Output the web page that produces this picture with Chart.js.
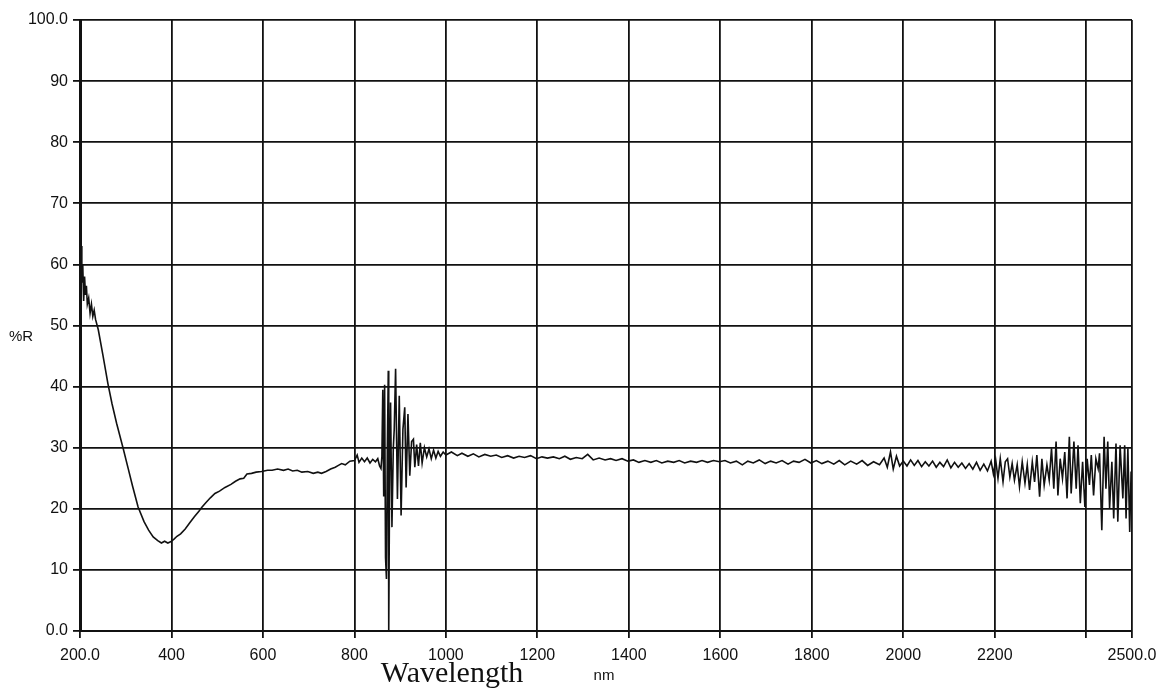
<!DOCTYPE html>
<html>
<head>
<meta charset="utf-8">
<script src="https://cdn.jsdelivr.net/npm/chart.js@4"></script>
<style>
  html, body { margin: 0; padding: 0; background: #fff; }
  #wrap { width: 1165px; height: 692px; }
</style>
</head>
<body>
<div id="wrap"><canvas id="spectrum" width="1165" height="692"></canvas></div>
<script>
// 軸の目盛り
const xTicks = [200, 400, 600, 800, 1000, 1200, 1400, 1600, 1800, 2000, 2200, 2400, 2500];
const xTickLabels = ["200.0", "400", "600", "800", "1000", "1200", "1400", "1600", "1800", "2000", "2200", "", "2500.0"];
const yTicks = [0, 10, 20, 30, 40, 50, 60, 70, 80, 90, 100];
const yTickLabels = ["0.0", "10", "20", "30", "40", "50", "60", "70", "80", "90", "100.0"];

// 波長 (nm) と反射率 (%R) — 画像から読み取った値
const wavelength = [
  200, 201, 202, 203, 204, 206, 208, 210, 212, 214, 216, 219, 222, 225, 228, 231, 234,
  240, 250, 261, 270, 280, 294, 305, 315, 327, 340, 350, 360, 370, 378, 385, 392, 398,
  405, 412, 420, 430, 440, 450, 460, 466, 475, 485, 495, 505, 517, 530, 540, 550, 558,
  565, 575, 585, 597, 610, 620, 632, 645, 655, 665, 675, 685, 698, 710, 720, 728, 738,
  748, 758, 765, 772, 780, 790, 800, 806, 810, 816, 822, 828, 834, 840, 846, 851, 855, 858,
  860, 862, 864, 866, 868, 870, 872, 874, 875, 877, 879, 882, 885, 887, 890, 894, 898,
  902, 906, 910, 913, 917, 921, 925, 929, 932, 936, 940, 944, 948, 953, 958, 963, 968,
  973, 978, 983, 988, 994,
  1000, 1012, 1025, 1035, 1048, 1060, 1072, 1085, 1098, 1110, 1122, 1135, 1148, 1160,
  1172, 1185, 1198, 1210, 1222, 1235, 1248, 1260, 1272, 1285, 1298, 1310, 1322, 1335,
  1348, 1360, 1372, 1385, 1398, 1410, 1422, 1435, 1448, 1460, 1472, 1485, 1498, 1510,
  1522, 1535, 1548, 1560, 1572, 1585, 1598, 1610, 1622, 1635, 1648, 1660, 1672, 1685,
  1698, 1710, 1722, 1735, 1748, 1760, 1772, 1785, 1798, 1810, 1822, 1835, 1848, 1860,
  1872, 1885, 1898, 1910, 1922, 1935, 1948, 1958, 1965, 1972, 1978, 1985, 1992,
  2000, 2008, 2016, 2024, 2032, 2040, 2048, 2056, 2064, 2072, 2080, 2088, 2096, 2104,
  2112, 2120, 2128, 2136, 2144, 2152, 2160, 2168, 2176, 2184, 2192, 2197,
  2202, 2207, 2212, 2218, 2223, 2228, 2233, 2238, 2243, 2249, 2254, 2260, 2266, 2271,
  2276, 2282, 2287, 2292, 2298, 2303, 2308, 2314, 2319, 2324, 2329, 2334, 2338, 2343,
  2348, 2353, 2358, 2363, 2367, 2373, 2378, 2382, 2387, 2392, 2397, 2402, 2407, 2411,
  2416, 2421, 2426, 2429, 2434, 2439, 2443, 2447, 2451, 2456, 2460, 2465, 2469, 2474,
  2480, 2484, 2487, 2491, 2495, 2498, 2500
];
const reflectance = [
  100, 61, 55, 63, 57, 60, 54, 58, 55, 56.5, 53.5, 54.5, 52, 53.5, 51.5, 52.5, 51,
  49.3, 45.2, 40.5, 37.2, 34, 30, 26.7, 23.7, 20.3, 17.9, 16.5, 15.4, 14.8, 14.4, 14.7, 14.4, 14.6,
  15.0, 15.5, 15.9, 16.7, 17.7, 18.7, 19.6, 20.2, 21.0, 21.8, 22.5, 22.9, 23.5, 24.0, 24.5, 24.9, 25.0,
  25.7, 25.8, 26.0, 26.1, 26.3, 26.3, 26.5, 26.3, 26.5, 26.2, 26.3, 26.0, 26.1, 25.8, 26.0, 25.8, 26.1,
  26.5, 26.8, 27.1, 27.4, 27.2, 27.8, 27.9, 28.8, 27.6, 28.3, 27.7, 28.3, 27.5, 28.1, 27.7, 28.2, 27.0, 26.6,
  28.5, 39.5, 22, 40.3, 12, 8.5, 30, 42.6, 0, 26, 37.4, 17, 30, 33, 42.9, 21.6, 38.5,
  18.9, 33, 36.6, 23.5, 35.5, 25.4, 31.0, 31.4, 26.8, 30.5, 27.0, 30.8, 27.5, 30.0, 28.5, 29.8, 28.2,
  29.6, 28.3, 29.4, 28.6, 29.3,
  28.8, 29.3, 28.7, 29.1, 28.6, 29.0, 28.5, 28.9, 28.6, 28.8, 28.4, 28.7, 28.3, 28.6,
  28.4, 28.7, 28.2, 28.5, 28.3, 28.5, 28.2, 28.6, 28.1, 28.4, 28.2, 28.9, 28.0, 28.3,
  28.0, 28.2, 27.9, 28.2, 27.8, 28.0, 27.6, 27.9, 27.6, 27.9, 27.5, 27.8, 27.6, 27.9,
  27.5, 27.8, 27.6, 27.9, 27.6, 27.9, 27.7, 27.9, 27.5, 27.8, 27.2, 27.8, 27.5, 28.0,
  27.4, 27.8, 27.5, 27.9, 27.3, 27.8, 27.6, 28.1, 27.5, 27.9, 27.4, 27.8, 27.3, 27.9,
  27.2, 27.8, 27.3, 27.9, 27.1, 27.7, 27.2, 28.3, 26.8, 29.3, 26.5, 28.6, 27.0,
  27.8, 27.0, 28.0, 27.1, 27.9, 26.9, 27.7, 27.0, 27.8, 26.8, 27.6, 26.9, 28.0, 26.7,
  27.6, 26.8, 27.5, 26.6, 27.4, 26.5, 27.6, 26.3, 27.3, 26.2, 27.8, 25.7,
  28.0, 25.0, 28.2, 24.4, 27.7, 28.2, 25.2, 27.4, 24.7, 27.2, 23.6, 27.7, 24.2, 27.2,
  23.1, 27.7, 24.4, 28.8, 22.0, 28.2, 23.9, 27.2, 24.7, 29.9, 23.3, 31.0, 22.2, 28.2,
  25.0, 29.3, 21.7, 31.8, 22.5, 31.0, 23.3, 30.4, 20.9, 27.7, 20.3, 28.2, 23.9, 28.8,
  22.2, 28.2, 26.6, 29.1, 16.5, 31.8, 23.3, 31.0, 20.1, 27.7, 18.4, 30.7, 17.9, 30.4,
  21.7, 30.4, 18.4, 29.9, 16.2, 26.1, 22
];

const points = wavelength.map((w, i) => ({ x: w, y: reflectance[i] }));

// 枠外のテキスト（%R, Wavelength, nm）を描くプラグイン
const extraLabels = {
  id: "extraLabels",
  afterDraw(chart) {
    const ctx = chart.ctx;
    ctx.save();
    ctx.fillStyle = "#111";
    ctx.textBaseline = "alphabetic";
    ctx.textAlign = "left";
    ctx.font = "15px 'Liberation Sans', Arial, sans-serif";
    ctx.fillText("%R", 9, 341);
    ctx.textAlign = "center";
    ctx.font = "30px 'Liberation Serif', 'Times New Roman', serif";
    ctx.fillText("Wavelength", 452, 682);
    ctx.font = "15px 'Liberation Sans', Arial, sans-serif";
    ctx.fillText("nm", 604, 680);
    ctx.restore();
  },
};

const tickFont = { family: "'Liberation Sans', Arial, sans-serif", size: 16 };

new Chart(document.getElementById("spectrum"), {
  type: "line",
  data: {
    datasets: [
      {
        data: points,
        borderColor: "#111",
        borderWidth: 1.6,
        pointRadius: 0,
        tension: 0,
        fill: false,
      },
    ],
  },
  options: {
    responsive: false,
    animation: false,
    devicePixelRatio: 1,
    layout: { padding: { top: 20, right: 33, left: 0, bottom: 0 } },
    plugins: {
      legend: { display: false },
      tooltip: { enabled: false },
    },
    scales: {
      x: {
        type: "linear",
        min: 200,
        max: 2500,
        afterBuildTicks: (scale) => {
          scale.ticks = xTicks.map((v) => ({ value: v }));
        },
        afterFit: (scale) => {
          scale.height = 61;
        },
        ticks: {
          autoSkip: false,
          maxRotation: 0,
          color: "#111",
          font: tickFont,
          padding: 8,
          callback: (value) => xTickLabels[xTicks.indexOf(value)],
        },
        grid: { color: "#111", lineWidth: 1.8, tickLength: 7 },
        border: { color: "#111", width: 2 },
      },
      y: {
        min: 0,
        max: 100,
        afterBuildTicks: (scale) => {
          scale.ticks = yTicks.map((v) => ({ value: v }));
        },
        afterFit: (scale) => {
          scale.width = 80;
        },
        ticks: {
          color: "#111",
          font: tickFont,
          padding: 5,
          callback: (value) => yTickLabels[yTicks.indexOf(value)],
        },
        grid: { color: "#111", lineWidth: 1.8, tickLength: 7 },
        border: { color: "#111", width: 3 },
      },
    },
  },
  plugins: [extraLabels],
});
</script>
</body>
</html>
